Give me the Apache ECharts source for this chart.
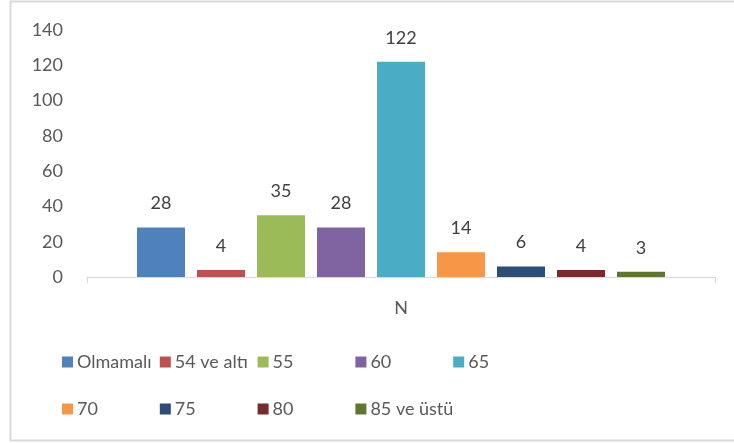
<!DOCTYPE html>
<html>
<head>
<meta charset="utf-8">
<title>N</title>
<script src="https://cdn.jsdelivr.net/npm/echarts@6/dist/echarts.min.js"></script>
<style>
  html, body { margin: 0; padding: 0; background: #fff; }
  #main { width: 734px; height: 443px; }
</style>
</head>
<body>
<div id="main"></div>
<script>
// veriler
var categories = ['N'];
var seriesNames = ['Olmamalı', '54 ve altı', '55', '60', '65', '70', '75', '80', '85 ve üstü'];
var seriesValues = [28, 4, 35, 28, 122, 14, 6, 4, 3];
var seriesColors = ['#4f81bd', '#c0504d', '#9bbb59', '#8064a2', '#4bacc6', '#f79646', '#2c4d75', '#772c2a', '#5f7530'];
var yTicks = { min: 0, max: 140, interval: 20 };

var fontName = 'Lato, "Open Sans", sans-serif';

var chart = echarts.init(document.getElementById('main'));

var series = [];
for (var i = 0; i < seriesNames.length; i++) {
  series.push({
    name: seriesNames[i],
    type: 'bar',
    data: [seriesValues[i]],
    barWidth: 48,
    barGap: '25%',
    itemStyle: { color: seriesColors[i] },
    label: {
      show: true,
      position: 'top',
      distance: 15,
      color: '#404040',
      fontSize: 18,
      fontFamily: fontName
    }
  });
}

// lejant: 5 sütunlu ızgara, her öğe ayrı legend
var legends = [];
for (var j = 0; j < seriesNames.length; j++) {
  var col = j % 5, row = Math.floor(j / 5);
  legends.push({
    data: [seriesNames[j]],
    left: 62 + col * 97.8,
    top: 353 + row * 47,
    padding: 0,
    icon: 'rect', itemWidth: 11, itemHeight: 11, itemGap: 0,
    textStyle: { color: '#595959', fontSize: 18, fontFamily: fontName, padding: [0, 0, 0, -1] }
  });
}

var option = {
  animation: false,
  grid: { left: 87, right: 19, top: 30, bottom: 166 },
  legend: legends,
  xAxis: {
    type: 'category',
    data: categories,
    axisLine: { lineStyle: { color: '#d9d9d9', width: 1 } },
    axisTick: { show: true, length: 6, lineStyle: { color: '#d9d9d9' } },
    axisLabel: { color: '#595959', fontSize: 18, fontFamily: fontName, margin: 22 }
  },
  yAxis: {
    type: 'value',
    min: yTicks.min,
    max: yTicks.max,
    interval: yTicks.interval,
    axisLine: { show: false },
    axisTick: { show: false },
    splitLine: { show: false },
    axisLabel: { color: '#595959', fontSize: 18, fontFamily: fontName, margin: 24 }
  },
  graphic: [{
    type: 'rect',
    shape: { x: 10.5, y: 1.5, width: 740, height: 439 },
    style: { fill: null, stroke: '#d9d9d9', lineWidth: 2 },
    silent: true
  }],
  series: series
};

chart.setOption(option);
</script>
</body>
</html>
